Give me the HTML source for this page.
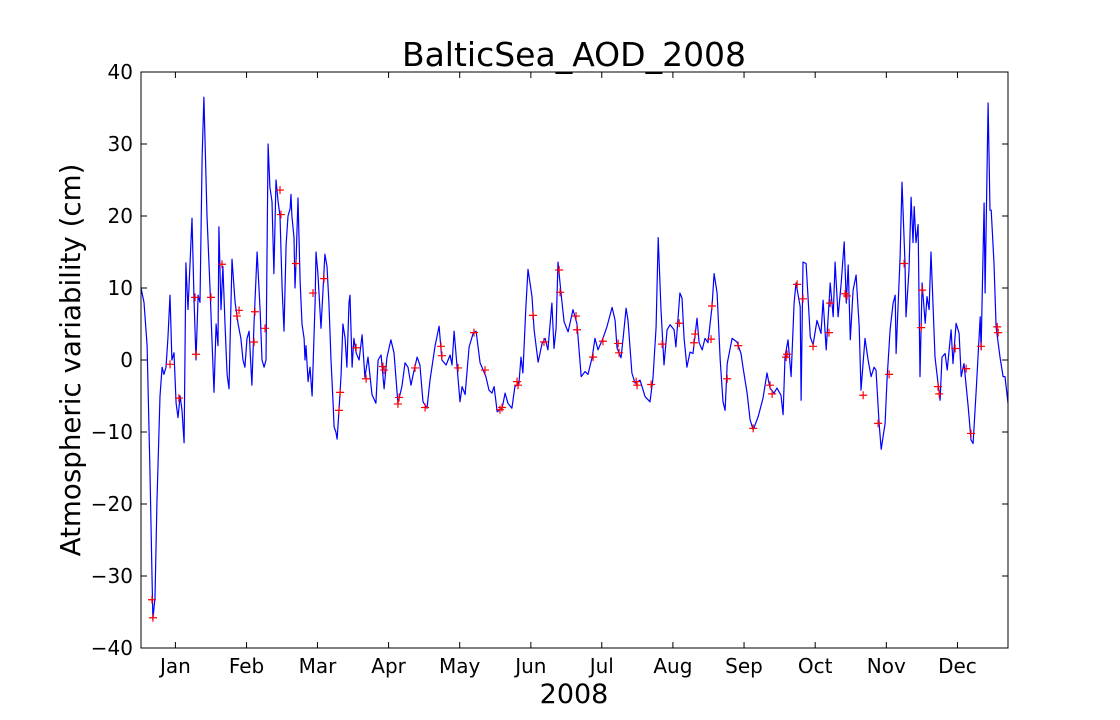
<!DOCTYPE html>
<html><head><meta charset="utf-8"><style>
html,body{margin:0;padding:0;background:#fff;}
svg{display:block;font-family:"DejaVu Sans","Liberation Sans",sans-serif;}
</style></head><body>
<svg id="chart" width="1120" height="720">
<rect x="0" y="0" width="1120" height="720" fill="#fff"/>
<text x="574" y="66" font-size="33" text-anchor="middle">BalticSea_AOD_2008</text>
<text x="574" y="703" font-size="27" text-anchor="middle">2008</text>
<text transform="translate(80,360) rotate(-90)" font-size="27.7" text-anchor="middle">Atmospheric variability (cm)</text>
<g id="ticks"></g>
<g id="plot"></g>
<rect x="141" y="72" width="867" height="576" fill="none" stroke="#000" stroke-width="1"/>
</svg>
<script>
const lineDays=[0,1.3,2.6,3.8,4.7,5.1,6.0,6.8,8.1,9.0,9.8,10.7,11.5,12.4,13.2,14.1,15.0,15.8,16.7,17.5,18.4,19.2,20.1,20.9,21.8,22.7,23.5,24.4,25.2,26.1,26.9,28.2,29.5,30.3,31.2,32.1,32.9,33.3,34.2,35.0,35.9,36.8,37.6,38.9,40.2,41.5,42.7,43.6,44.4,45.3,46.2,47.4,48.3,49.6,50.9,51.7,52.6,53.4,54.3,55.1,56.0,56.8,57.7,58.6,59.4,60.3,61.1,62.0,62.8,63.7,64.1,64.5,65.4,65.8,66.2,67.1,68.0,68.8,69.7,70.1,70.5,71.4,72.2,73.1,74.4,74.8,75.6,76.9,78.6,79.5,80.3,81.2,82.1,82.5,83.3,83.8,84.6,85.5,86.3,87.2,88.0,88.9,89.3,90.2,91.0,91.9,93.2,94.5,95.7,97.0,98.7,100.4,101.3,102.6,103.9,105.1,106.8,108.1,109.8,111.5,112.8,114.1,115.4,116.3,118.0,119.2,120.5,122.2,123.5,125.7,127.4,128.6,130.4,132.1,132.9,133.8,135.1,136.3,137.2,138.5,140.2,141.9,143.2,144.9,147.4,148.7,150.0,150.9,152.2,154.3,155.6,156.8,158.5,159.8,161.5,162.4,163.2,164.5,165.4,167.1,168.0,169.7,171.4,172.7,173.9,175.6,176.5,177.4,178.2,179.5,180.8,182.5,183.8,184.6,186.3,188.1,189.8,191.0,192.8,194.0,195.3,197.4,199.1,201.3,202.6,203.4,205.1,206.0,207.3,208.1,209.8,211.1,213.3,215.4,217.5,218.8,220.1,221.0,222.2,223.5,224.8,226.1,227.8,228.6,230.3,231.2,232.1,233.3,234.6,235.9,237.6,238.5,239.8,241.0,242.3,244.0,244.9,246.2,247.5,248.7,249.6,250.5,252.6,254.7,256.4,257.3,259.0,260.3,261.6,263.7,265.8,267.5,268.8,270.5,271.8,273.5,274.4,275.2,276.5,277.8,279.1,279.9,281.7,282.1,282.9,284.2,286.0,287.2,288.9,290.6,291.5,292.8,294.5,295.8,296.6,297.9,299.2,300.5,301.4,302.2,303.1,304.3,305.6,306.9,307.7,309.4,310.7,312.0,313.3,314.1,315.4,316.3,318.0,318.8,320.1,321.4,322.3,322.7,324.4,325.2,326.5,326.9,328.2,329.1,329.9,330.4,331.2,332.1,332.9,333.8,335.1,335.9,336.8,337.6,338.5,339.3,340.6,341.5,342.3,343.6,344.5,346.2,347.0,348.3,349.6,350.5,351.7,353.5,354.7,355.6,356.9,358.6,359.0,360.3,360.7,362.0,362.8,363.3,364.5,365.4,367.1,368.4,369.2,370.5];
const lineValues=[10,8,2,-15,-30,-36,-33,-20,-5,-1,-2,-1,3,9,0,1,-6,-8,-5,-7,-11.5,13.5,7,13,19.7,8,0,9,8,28,36.5,20,10,3,-4.5,5,2,18.5,7,13,5,-2,-4,14,8,5,3,0,-1,3,4,-3.5,5,15,7,0,-1,0,30,24,22,12,25,22,20,10,4,16,20,21,23,20,17,10,13,22.5,11,5,3,0,2,-3,-1,-5,8,15,12,4.4,14.7,13,8,0,-6,-9.3,-10,-11,-7,-2,5,3,-1,8,9,-1,3,1,0,3.5,-2.4,0.4,-4.8,-6,0,0.7,-4,0.3,2.8,1,-6,-3.7,-0.4,-1,-3.5,-2,0.4,-0.7,-5.8,-6.7,-2.8,2,4.7,0,-0.7,0.7,-0.7,4,-1,-5.8,-3.7,-4.8,1.8,3.7,4,-0.4,-2.3,-4.2,-4.6,-3.7,-7.2,-6.7,-4.6,-6,-6.7,-3.7,-3.3,0.4,-1.8,7.4,12.6,8.8,4.2,-0.3,2.3,3,1.4,7.9,1.6,4.4,13.6,9.3,5.3,3.9,5.8,7,5,-2.3,-1.6,-2,0.4,3,1.4,3,4.6,7.3,5.5,1.7,0.3,3,7.2,5.5,-1.8,-3.2,-2.8,-5.1,-5.8,-2.5,4.6,17,7,-0.7,4.2,4.9,4.2,1.8,9.3,8.6,3,-1,1.1,0.9,5.8,2.4,1.4,3,2.4,7.4,12,9.3,0,-5.8,-7,-0.5,3,2.5,0.9,-1.1,-4.6,-8.3,-9.7,-7.9,-5.3,-1.8,-3.9,-4.6,-3.9,-4.9,-7.6,0.4,2.8,-2.3,7.9,10.7,7.4,-5.6,13.6,13.4,3.2,2.1,5.5,3.7,8.3,1.4,10.7,6,13.6,6,10.7,16.4,7.9,13.2,2.8,9.7,11.8,4.6,-4.2,3,0,-2.3,-1,-1.4,-8.8,-12.4,-8.8,-2.8,4.2,7.9,9,0.9,14.3,24.7,13.4,6,12.5,22.6,16.3,21.3,16.3,18.8,-2.3,10.7,5.1,8.8,7,15,7.4,0.4,-3.2,-5.6,0.4,0.9,-1.4,4.2,-0.5,5.1,3.7,-2.3,-0.5,-6.5,-11.1,-11.6,-4.2,6,1.4,21.8,9.3,35.7,20.8,20.8,13.4,4.6,0.4,-2.3,-2.3,-6];
const markerDays=[4.7,5.1,12.4,16.2,23.1,23.5,29.9,34.6,41.0,41.9,48.7,48.3,53.0,59.4,59.8,66.2,73.5,78.2,85.1,84.6,91.9,96.2,103.4,103.9,109.8,110.3,117.1,121.4,128.2,128.6,135.5,142.3,147.0,153.4,154.3,160.7,161.1,167.5,172.2,178.7,179.1,185.9,186.3,193.2,197.4,203.9,204.3,211.6,212.0,218.0,222.7,230.0,236.8,236.3,244.0,243.6,250.5,255.2,261.6,268.8,269.7,275.7,276.1,280.4,282.9,287.2,294.5,294.0,300.9,301.7,308.6,315.0,319.7,326.1,333.8,333.4,340.6,341.1,347.9,352.6,354.7,359.0,365.9,366.3];
const markerValues=[-33.3,-35.8,-0.6,-5.3,8.7,0.8,8.7,13.3,6.1,6.9,6.7,2.5,4.4,23.6,20.2,13.4,9.3,11.3,-4.5,-7.0,1.7,-2.6,-0.9,-1.4,-6.1,-5.2,-1.1,-6.6,1.9,0.6,-1.1,3.8,-1.4,-6.9,-6.6,-3.0,-3.5,6.2,2.5,12.5,9.4,6.1,4.2,0.4,2.6,2.3,1.0,-3.0,-3.5,-3.4,2.2,5.1,3.6,2.4,7.5,2.9,-2.6,2.0,-9.5,-3.5,-4.7,0.4,0.8,10.5,8.5,1.9,7.9,3.8,9.2,8.9,-4.9,-8.8,-2.0,13.4,9.7,4.5,-3.7,-4.7,1.6,-1.2,-10.2,1.9,4.6,3.8];
const monthLabels=["Jan","Feb","Mar","Apr","May","Jun","Jul","Aug","Sep","Oct","Nov","Dec"];
const monthTickDays=[14.7,45.1,75.4,105.8,136.2,166.6,196.9,227.3,257.7,288.1,318.5,348.9];
const yTicks=[-40,-30,-20,-10,0,10,20,30,40];

const X0=141,X1=1008,Y0=648,Y1=72,DMIN=0,DMAX=370.5,VMIN=-40,VMAX=40;
function xs(d){return X0+(d-DMIN)/(DMAX-DMIN)*(X1-X0);}
function ys(v){return Y0-(v-VMIN)/(VMAX-VMIN)*(Y0-Y1);}
const NS="http://www.w3.org/2000/svg";
const plot=document.getElementById('plot'),tk=document.getElementById('ticks');
function mk(tag,attrs,parent){const e=document.createElementNS(NS,tag);for(const k in attrs)e.setAttribute(k,attrs[k]);parent.appendChild(e);return e;}

yTicks.forEach(v=>{
  const y=ys(v);
  const t1=mk('line',{x1:X0,x2:X0+6,y1:y,y2:y,stroke:'#000'},tk);
  
  
  const t2=mk('line',{x1:X1-6,x2:X1,y1:y,y2:y,stroke:'#000'},tk);
  
  
  const lb=mk('text',{x:X0-8,y:y+7,'font-size':20,'text-anchor':'end'},tk);
  lb.textContent=(v<0?'\u2212'+(-v):String(v));
  
  
});
monthTickDays.forEach((d,i)=>{
  const x=xs(d);
  const t1=mk('line',{x1:x,x2:x,y1:Y0,y2:Y0-6,stroke:'#000'},tk);
  
  
  const t2=mk('line',{x1:x,x2:x,y1:Y1,y2:Y1+6,stroke:'#000'},tk);
  
  
  const lb=mk('text',{x:x,y:673,'font-size':20,'text-anchor':'middle'},tk);
  lb.textContent=monthLabels[i];
  
  
});
let pts=lineDays.map((d,i)=>xs(d).toFixed(1)+','+ys(lineValues[i]).toFixed(1)).join(' ');
const pl=mk('polyline',{points:pts,fill:'none',stroke:'#0000ff','stroke-width':1.2,'stroke-linejoin':'round'},plot);


markerDays.forEach((d,i)=>{
  const x=xs(d),y=ys(markerValues[i]);
  const m=mk('path',{d:`M${x-4},${y}H${x+4}M${x},${y-4}V${y+4}`,stroke:'#ff0000','stroke-width':1.2,fill:'none'},plot);
  
  
});
</script>
</body></html>
